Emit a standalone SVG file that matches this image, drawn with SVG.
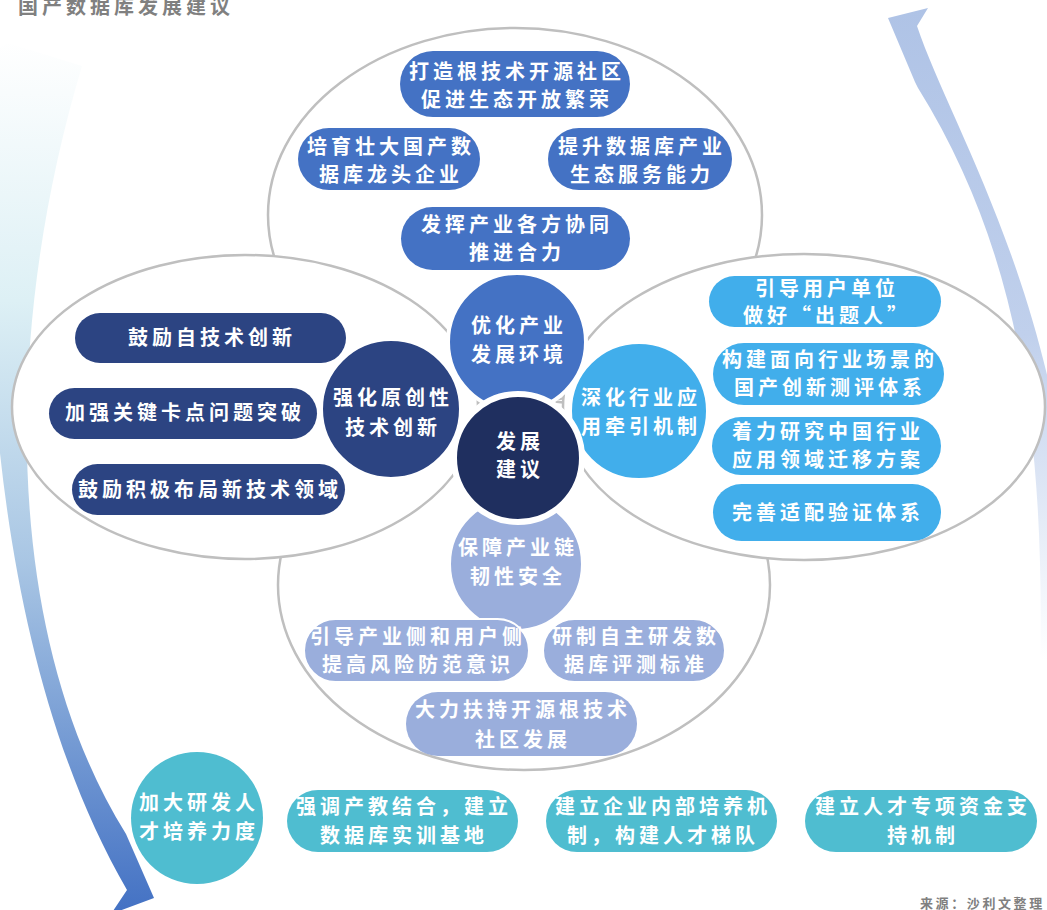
<svg xmlns="http://www.w3.org/2000/svg" width="1047" height="910" viewBox="0 0 1047 910">
<defs>
<linearGradient id="gl" gradientUnits="userSpaceOnUse" x1="0" y1="40" x2="0" y2="910">
<stop offset="0" stop-color="#FFFFFF"/>
<stop offset="0.3" stop-color="#DDF0F5"/>
<stop offset="0.6" stop-color="#A9C6E4"/>
<stop offset="1" stop-color="#4472C4"/>
</linearGradient>
<linearGradient id="gr" gradientUnits="userSpaceOnUse" x1="0" y1="10" x2="0" y2="660">
<stop offset="0" stop-color="#AFC3E6"/>
<stop offset="0.5" stop-color="#C0D0EC"/>
<stop offset="1" stop-color="#FFFFFF"/>
</linearGradient>
<style>
.ell{fill:#FFFFFF;stroke:#BFBFBF;stroke-width:2.5}
.t{font-family:"Noto Sans CJK SC","Noto Sans CJK JP",sans-serif;font-weight:bold;font-size:20px;letter-spacing:4px;fill:#FFFFFF;text-anchor:middle}
.top{fill:#4472C4}
.lft{fill:#2C4482}
.rgt{fill:#41AEEB}
.bot{fill:#9AAEDC}
.tal{fill:#4FBDD0}
.circ{stroke:#FFFFFF;stroke-width:4}
.cap{font-family:"Noto Sans CJK SC",sans-serif;font-weight:bold;fill:#808080}
</style>
</defs>
<text class="cap" x="18" y="14" font-size="20" letter-spacing="4">国产数据库发展建议</text>
<g id="arrows">
<path d="M 8,43 L 82,66 C 0,340 5,640 126,834 L 154,898 L 111,914 L 127,890 C 0,670 -20,360 -10,100 L -20,60 Z" fill="url(#gl)"/>
<path d="M 888,18 L 928,8 L 917,26 C 945,110 1030,250 1062,450 L 1060,680 L 1040,680 C 1045,450 1025,260 918,88 L 915,82 Z" fill="url(#gr)"/>
</g>
<g id="ellipses">
<ellipse class="ell" cx="515" cy="215" rx="247" ry="187"/>
<ellipse class="ell" cx="524" cy="585" rx="246" ry="185"/>
<ellipse class="ell" cx="245" cy="407" rx="233" ry="152"/>
<ellipse class="ell" cx="804" cy="407" rx="241" ry="153"/>
</g>
<g id="top-group">
<g id="p1"><rect class="top" x="400" y="51" width="230" height="66" rx="33"/><text class="t" x="517" y="79">打造根技术开源社区</text><text class="t" x="517" y="107">促进生态开放繁荣</text></g>
<g id="p2"><rect class="top" x="298" y="128" width="182" height="62" rx="31"/><text class="t" x="391" y="154">培育壮大国产数</text><text class="t" x="391" y="182">据库龙头企业</text></g>
<g id="p3"><rect class="top" x="548" y="128" width="184" height="62" rx="31"/><text class="t" x="642" y="154">提升数据库产业</text><text class="t" x="642" y="182">生态服务能力</text></g>
<g id="p4"><rect class="top" x="401" y="207" width="229" height="63" rx="31.5"/><text class="t" x="517" y="232">发挥产业各方协同</text><text class="t" x="517" y="260">推进合力</text></g>
</g>
<g id="left-group">
<g id="l1"><rect class="lft" x="75" y="313" width="271" height="50" rx="25"/><text class="t" x="212" y="345">鼓励自技术创新</text></g>
<g id="l2"><rect class="lft" x="49" y="388" width="268" height="51" rx="25.5"/><text class="t" x="185" y="420">加强关键卡点问题突破</text></g>
<g id="l3"><rect class="lft" x="72" y="464" width="273" height="51" rx="25.5"/><text class="t" x="210" y="497">鼓励积极布局新技术领域</text></g>
</g>
<g id="right-group">
<g id="r1"><rect class="rgt" x="709" y="276" width="232" height="51" rx="25.5"/><text class="t" x="827" y="296">引导用户单位</text><text class="t" x="827" y="323">做好“出题人”</text></g>
<g id="r2"><rect class="rgt" x="713" y="343" width="231" height="62" rx="31"/><text class="t" x="830" y="367">构建面向行业场景的</text><text class="t" x="830" y="395">国产创新测评体系</text></g>
<g id="r3"><rect class="rgt" x="712" y="417" width="229" height="58" rx="29"/><text class="t" x="828" y="439">着力研究中国行业</text><text class="t" x="828" y="467">应用领域迁移方案</text></g>
<g id="r4"><rect class="rgt" x="713" y="484" width="228" height="57" rx="28.5"/><text class="t" x="828" y="520">完善适配验证体系</text></g>
</g>
<g id="petals">
<g id="c-top"><circle class="top circ" cx="517" cy="342" r="69"/><text class="t" x="519" y="333">优化产业</text><text class="t" x="519" y="362">发展环境</text></g>
<g id="c-left"><circle class="lft circ" cx="391" cy="409" r="70"/><text class="t" x="393" y="405">强化原创性</text><text class="t" x="393" y="435">技术创新</text></g>
<g id="c-bottom"><circle class="bot circ" cx="516" cy="564" r="67"/><text class="t" x="518" y="555">保障产业链</text><text class="t" x="518" y="584">韧性安全</text></g>
<g id="c-right"><circle class="rgt circ" cx="639" cy="411" r="69"/><text class="t" x="641" y="405">深化行业应</text><text class="t" x="641" y="434">用牵引机制</text></g>
<g id="c-center"><circle cx="518" cy="458" r="64" fill="#1F2F5F" stroke="#FFFFFF" stroke-width="6"/><text class="t" x="520" y="449">发展</text><text class="t" x="520" y="477">建议</text></g>
</g>
<g id="bottom-group">
<g id="b1"><rect class="bot" x="304" y="619" width="225" height="63" rx="31.5" stroke="#FFFFFF" stroke-width="2"/><text class="t" x="418" y="644">引导产业侧和用户侧</text><text class="t" x="418" y="672">提高风险防范意识</text></g>
<g id="b2"><rect class="bot" x="543" y="619" width="182" height="63" rx="31.5" stroke="#FFFFFF" stroke-width="2"/><text class="t" x="636" y="644">研制自主研发数</text><text class="t" x="636" y="672">据库评测标准</text></g>
<g id="b3"><rect class="bot" x="406" y="692" width="231" height="64" rx="32"/><text class="t" x="523" y="717">大力扶持开源根技术</text><text class="t" x="523" y="747">社区发展</text></g>
</g>
<g id="talent">
<g id="k1"><circle class="tal" cx="197" cy="818" r="66"/><text class="t" x="199" y="810">加大研发人</text><text class="t" x="199" y="839">才培养力度</text></g>
<g id="k2"><rect class="tal" x="287" y="790" width="231" height="62" rx="31"/><text class="t" x="404" y="814">强调产教结合，建立</text><text class="t" x="404" y="843">数据库实训基地</text></g>
<g id="k3"><rect class="tal" x="546" y="790" width="231" height="62" rx="31"/><text class="t" x="663" y="814">建立企业内部培养机</text><text class="t" x="663" y="843">制，构建人才梯队</text></g>
<g id="k4"><rect class="tal" x="805" y="790" width="232" height="62" rx="31"/><text class="t" x="923" y="814">建立人才专项资金支</text><text class="t" x="923" y="843">持机制</text></g>
</g>
<text class="cap" x="920" y="908" font-size="13" letter-spacing="2.6" font-weight="normal">来源：沙利文整理</text>
</svg>
